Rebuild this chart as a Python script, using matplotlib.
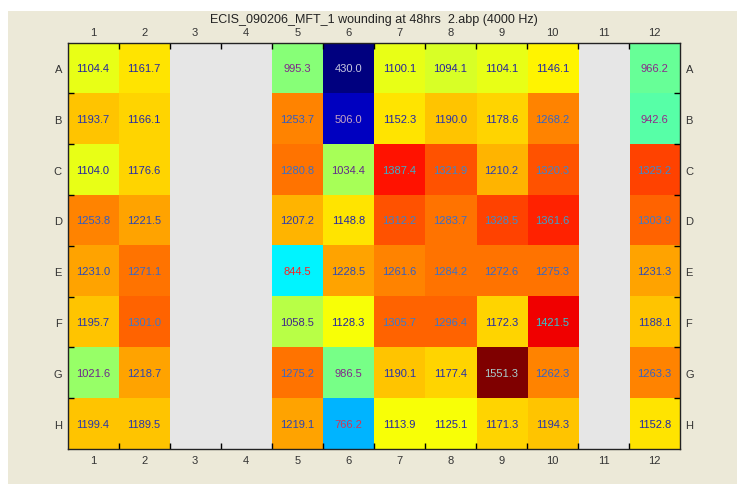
import numpy as np
import matplotlib
matplotlib.use("Agg")
import matplotlib.pyplot as plt
from matplotlib.colors import LinearSegmentedColormap, Normalize
from matplotlib.patches import Rectangle

title = "ECIS_090206_MFT_1 wounding at 48hrs  2.abp (4000 Hz)"
row_labels = ["A", "B", "C", "D", "E", "F", "G", "H"]
col_labels = [str(i) for i in range(1, 13)]
nan = np.nan

# values per well, rows A-H, columns 1-12 (empty wells are nan)
row_a = [1104.4, 1161.7, nan, nan, 995.3, 430.0, 1100.1, 1094.1, 1104.1, 1146.1, nan, 966.2]
row_b = [1193.7, 1166.1, nan, nan, 1253.7, 506.0, 1152.3, 1190.0, 1178.6, 1268.2, nan, 942.6]
row_c = [1104.0, 1176.6, nan, nan, 1280.8, 1034.4, 1387.4, 1321.9, 1210.2, 1320.3, nan, 1325.2]
row_d = [1253.8, 1221.5, nan, nan, 1207.2, 1148.8, 1312.2, 1283.7, 1328.5, 1361.6, nan, 1303.9]
row_e = [1231.0, 1271.1, nan, nan, 844.5, 1228.5, 1261.6, 1284.2, 1272.6, 1275.3, nan, 1231.3]
row_f = [1195.7, 1301.0, nan, nan, 1058.5, 1128.3, 1305.7, 1296.4, 1172.3, 1421.5, nan, 1188.1]
row_g = [1021.6, 1218.7, nan, nan, 1275.2, 986.5, 1190.1, 1177.4, 1551.3, 1262.3, nan, 1263.3]
row_h = [1199.4, 1189.5, nan, nan, 1219.1, 766.2, 1113.9, 1125.1, 1171.3, 1194.3, nan, 1152.8]

data = np.array([row_a, row_b, row_c, row_d, row_e, row_f, row_g, row_h])

W, H = 737, 485
fig = plt.figure(figsize=(W / 100, H / 100), dpi=100, facecolor="white")

# beige window background
fig.patches.append(Rectangle((8 / W, 0), 1, 1 - 12 / H, transform=fig.transFigure,
                             facecolor="#ece9d8", edgecolor="none", zorder=-1))

ax = fig.add_axes([67.5 / W, 1 - 450 / H, 612.5 / W, 406.5 / H])

# matlab style jet, 64 steps
jet_m = {
    "red":   [(0, 0, 0), (0.375, 0, 0), (0.625, 1, 1), (0.875, 1, 1), (1, 0.5, 0.5)],
    "green": [(0, 0, 0), (0.125, 0, 0), (0.375, 1, 1), (0.625, 1, 1), (0.875, 0, 0), (1, 0, 0)],
    "blue":  [(0, 0.5, 0.5), (0.125, 1, 1), (0.375, 1, 1), (0.625, 0, 0), (1, 0, 0)],
}
cmap = LinearSegmentedColormap("jet_m", jet_m, N=64)
cmap.set_bad("#e6e6e6")
norm = Normalize(vmin=np.nanmin(data), vmax=np.nanmax(data))

ax.imshow(np.ma.masked_invalid(data), cmap=cmap, norm=norm, aspect="auto",
          interpolation="nearest", extent=(0.5, 12.5, 8.5, 0.5))

# text colour shifts with value, like the original tool
text_cmap = LinearSegmentedColormap.from_list("txt", [
    (0.0, "#c8c8e0"), (0.25, "#c04070"), (0.37, "#ff2020"), (0.46, "#902a8a"),
    (0.52, "#7a2a8a"), (0.56, "#40268a"), (0.60, "#2222a0"), (0.66, "#2228a8"),
    (0.70, "#2a40b0"), (0.73, "#3058c0"), (0.76, "#3a6ec8"), (0.80, "#4088cc"),
    (0.84, "#40a4c8"), (0.89, "#30c8d0"), (1.0, "#a8cccc")])

for i in range(data.shape[0]):
    for j in range(data.shape[1]):
        v = data[i, j]
        if np.isnan(v):
            continue
        ax.text(j + 1, i + 1, "%.1f" % v, ha="center", va="center",
                fontsize=8, family="Liberation Sans", color=text_cmap(norm(v)))

ax.set_xlim(0.5, 12.5)
ax.set_ylim(8.5, 0.5)

ax.set_xticks(range(1, 13))
ax.set_xticklabels(col_labels)
ax.set_yticks(range(1, 9))
ax.set_yticklabels(row_labels)
ax.set_xticks(np.arange(1.5, 12.5, 1), minor=True)
ax.set_yticks(np.arange(1.5, 8.5, 1), minor=True)

ax.tick_params(which="major", length=0, labelsize=8, labelcolor="#333333",
               top=True, bottom=True, left=True, right=True,
               labeltop=True, labelbottom=True, labelleft=True, labelright=True, pad=4)
ax.tick_params(which="minor", direction="in", length=4, width=1, color="black",
               top=True, bottom=True, left=True, right=True)
for lab in ax.get_xticklabels() + ax.get_yticklabels():
    lab.set_family("Liberation Sans")

for s in ax.spines.values():
    s.set_linewidth(1)
    s.set_color("#222222")

fig.text((67.5 + 680) / 2 / W, 1 - 20 / H, title, ha="center", va="center",
         fontsize=9, family="Liberation Sans", color="#222222")

fig.savefig("out.png", dpi=100, facecolor=fig.get_facecolor())
